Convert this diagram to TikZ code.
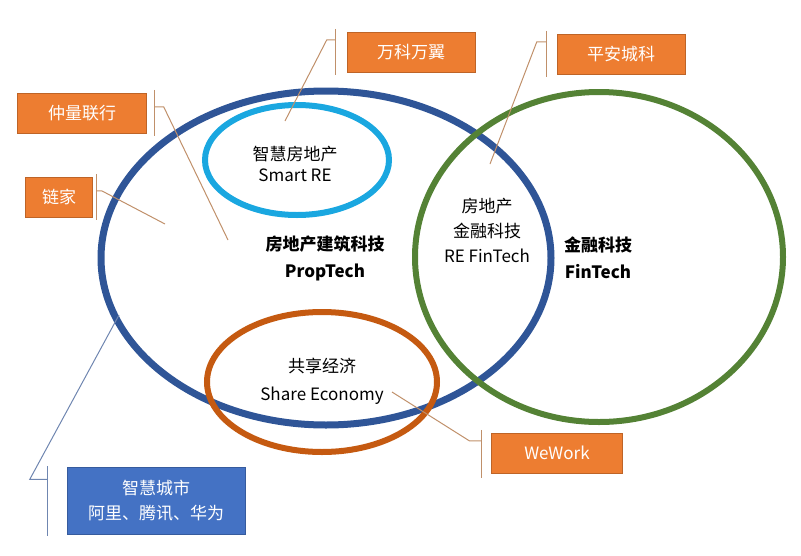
\documentclass[tikz,border=0pt]{standalone}
\usepackage{fontspec}
\setmainfont{Noto Sans CJK SC}
\usepackage{tikz}
\definecolor{propblue}{HTML}{2F5597}
\definecolor{smartblue}{HTML}{1AA7E0}
\definecolor{fingreen}{HTML}{548235}
\definecolor{shareorange}{HTML}{C55A11}
\definecolor{tagorange}{HTML}{ED7D31}
\definecolor{cityblue}{HTML}{4472C4}
\definecolor{leadtan}{HTML}{C0906A}
\definecolor{leadblue}{HTML}{6F86B0}
\tikzset{
  tag/.style={fill=tagorange, draw=tagorange!80!black, text=white, font=\fontsize{17}{20}\selectfont, minimum height=40pt, inner sep=0pt},
  lead/.style={leadtan, line width=1pt},
  ring/.style={line width=7pt},
  label/.style={align=center, font=\fontsize{17}{21}\selectfont}
}
\begin{document}
\begin{tikzpicture}[x=1pt,y=-1pt]
    \useasboundingbox (0,0) rectangle (801,555);
    \draw[ring, propblue] (326,258) ellipse (225 and 167);
    \draw[ring, fingreen, line width=6pt] (599,257) ellipse (184 and 165);
    \draw[ring, smartblue, line width=6pt] (297,160) ellipse (92 and 55);
    \draw[ring, shareorange, line width=6pt] (322,382) ellipse (115 and 70);

    \node[label] (smart) at (295,164) {智慧房地产\\Smart RE};
    \node[label, font=\fontsize{17}{27}\bfseries\selectfont] (prop) at (325,258) {房地产建筑科技\\PropTech};
    \node[label, font=\fontsize{17}{25}\selectfont] (refin) at (487,230) {房地产\\金融科技\\RE FinTech};
    \node[label, font=\fontsize{17}{27}\bfseries\selectfont] (fin) at (598,258) {金融科技\\FinTech};
    \node[label, font=\fontsize{17}{28}\selectfont] (share) at (322,381) {共享经济\\Share Economy};

    \node[tag, minimum width=128pt] (vanke) at (411,52) {万科万翼};
    \node[tag, minimum width=128pt] (pingan) at (621,54) {平安城科};
    \node[tag, minimum width=129pt] (jll) at (82,113) {仲量联行};
    \node[tag, minimum width=67pt] (lianjia) at (59,197) {链家};
    \node[tag, minimum width=131pt] (wework) at (557,453) {WeWork};
    \node[tag, fill=cityblue, draw=cityblue!80!black, minimum width=178pt, minimum height=67pt, align=center, font=\fontsize{17}{25}\selectfont] (city) at (156,501) {智慧城市\\阿里、腾讯、华为};

    % callout leaders
    \coordinate (vanke end) at (285,121);
    \coordinate (pingan end) at (490,164);
    \coordinate (jll end) at (228,240);
    \coordinate (lianjia end) at (165,224);
    \coordinate (wework end) at (392,392);
    \coordinate (city end) at (119,315);
    \draw[lead] ([xshift=-11pt]vanke.north west) ++(0,-3) -- ++(0,46);
    \draw[lead] ([xshift=-11pt]vanke.north west) ++(0,8) -- ++(-9,0) -- (vanke end);
    \draw[lead] ([xshift=-10pt]pingan.north west) ++(0,-3) -- ++(0,46);
    \draw[lead] ([xshift=-10pt]pingan.north west) ++(0,8) -- ++(-10,0) -- (pingan end);
    \draw[lead] ([xshift=8pt]jll.north east) ++(0,-3) -- ++(0,46);
    \draw[lead] ([xshift=8pt]jll.north east) ++(0,14) -- ++(9,0) -- (jll end);
    \draw[lead] ([xshift=4pt]lianjia.north east) ++(0,-3) -- ++(0,46);
    \draw[lead] ([xshift=4pt]lianjia.north east) ++(0,14) -- ++(5,0) -- (lianjia end);
    \draw[lead] ([xshift=-10pt]wework.north west) ++(0,-3) -- ++(0,48);
    \draw[lead] ([xshift=-10pt]wework.north west) ++(0,8) -- ++(-12,0) -- (wework end);
    \draw[lead, leadblue] ([xshift=-19pt]city.north west) ++(0,-1) -- ++(0,70);
    \draw[lead, leadblue] ([xshift=-19pt]city.north west) ++(0,12) -- ++(-18,0) -- (city end);
\end{tikzpicture}
\end{document}
